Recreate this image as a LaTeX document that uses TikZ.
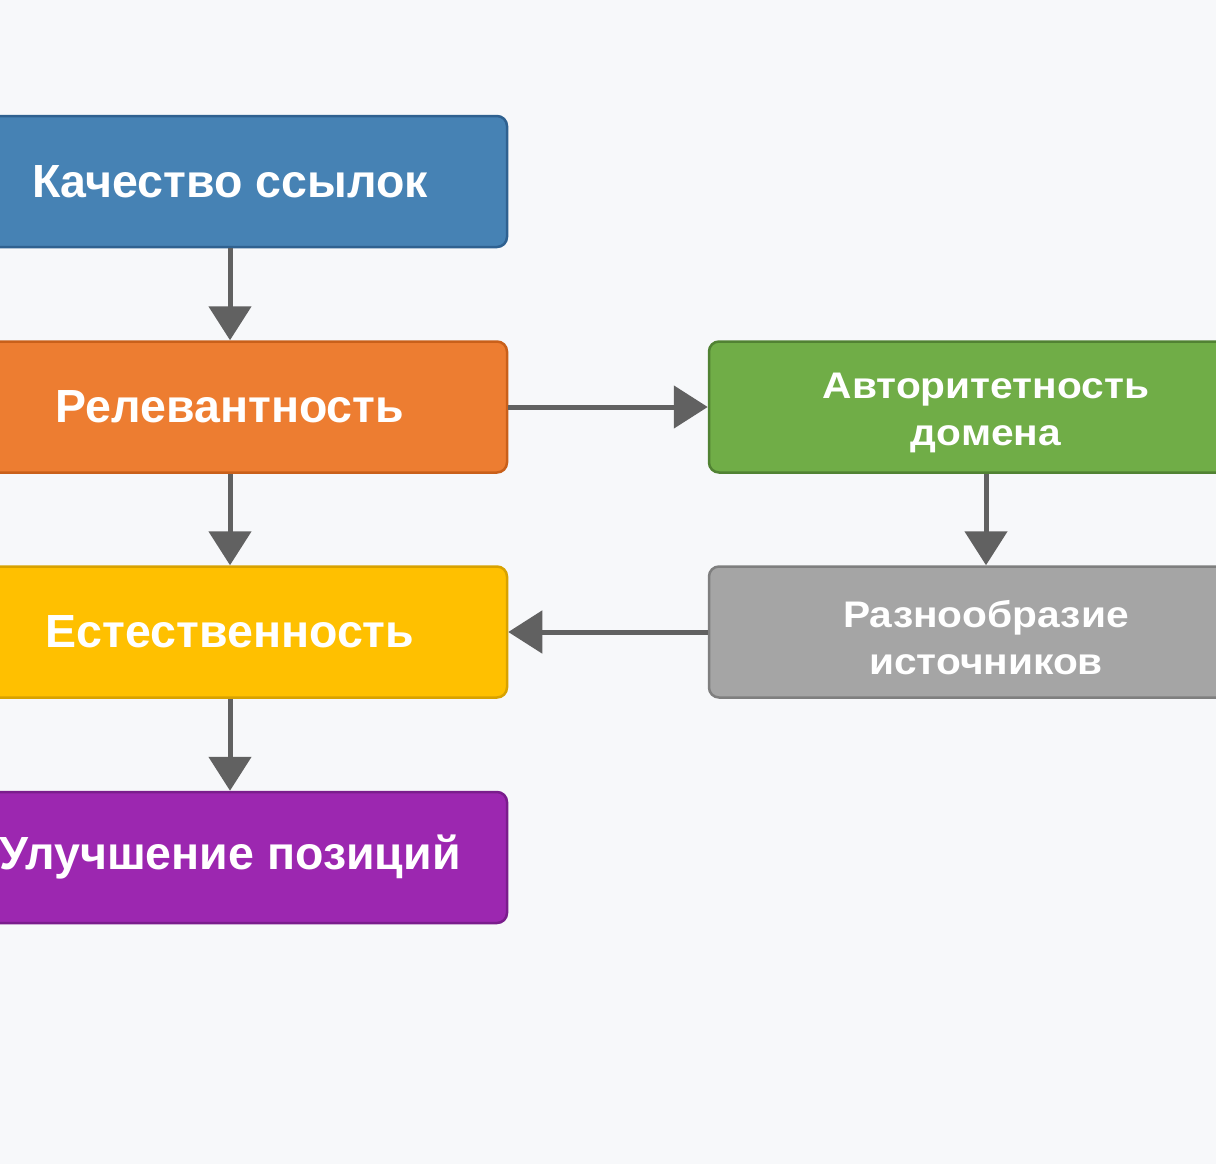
\documentclass[tikz,border=0pt]{standalone}
\usepackage{fontspec}
\setmainfont{Liberation Sans}
\newfontfamily\widesans[FakeStretch=1.1]{Liberation Sans}
\usetikzlibrary{arrows.meta}
\definecolor{bgc}{HTML}{F7F8FA}
\definecolor{bluef}{HTML}{4682B4}\definecolor{blued}{HTML}{2F6190}
\definecolor{orangef}{HTML}{ED7D31}\definecolor{oranged}{HTML}{C9601A}
\definecolor{yellowf}{HTML}{FFC000}\definecolor{yellowd}{HTML}{D8A200}
\definecolor{purplef}{HTML}{9C27B0}\definecolor{purpled}{HTML}{7A1D8C}
\definecolor{greenf}{HTML}{70AD47}\definecolor{greend}{HTML}{518233}
\definecolor{grayf}{HTML}{A5A5A5}\definecolor{grayd}{HTML}{7F7F7F}
\definecolor{arrowc}{HTML}{616161}
\tikzset{
  fbox/.style={rounded corners=10pt, line width=2.5pt, minimum width=554pt, minimum height=131pt,
    text=white, align=center, font=\bfseries\fontsize{46.5}{50}\selectfont, inner sep=0pt},
  lbl2/.style={text=white, align=center, inner sep=0pt,
    font=\widesans\bfseries\fontsize{37}{47}\selectfont},
  conn/.style={draw=arrowc, line width=5pt, -{Triangle[length=34pt,width=42pt]}}
}
\begin{document}
\begin{tikzpicture}[x=1pt,y=-1pt]
\clip (0,0) rectangle (1216,1164);
\fill[bgc] (0,0) rectangle (1216,1164);
\node[fbox, fill=bluef, draw=blued] (q) at (230,181.5) {Качество ссылок};
\node[fbox, fill=orangef, draw=oranged] (r) at (230,407) {Релевантность};
\node[fbox, fill=yellowf, draw=yellowd] (e) at (230,632) {Естественность};
\node[fbox, fill=purplef, draw=purpled] (u) at (230,857.5) {Улучшение позиций};
\node[fbox, fill=greenf, draw=greend] (a) at (986,407) {};
\node[lbl2] (at) at ([yshift=-6pt]a.center) {Авторитетность\\домена};
\node[fbox, fill=grayf, draw=grayd] (d) at (986,632) {};
\node[lbl2] (dt) at ([yshift=-6pt]d.center) {Разнообразие\\источников};
\draw[conn] (q) -- (r);
\draw[conn] (r) -- (e);
\draw[conn] (e) -- (u);
\draw[conn] (r) -- (a);
\draw[conn] (a) -- (d);
\draw[conn] (d) -- (e);
\end{tikzpicture}
\end{document}
